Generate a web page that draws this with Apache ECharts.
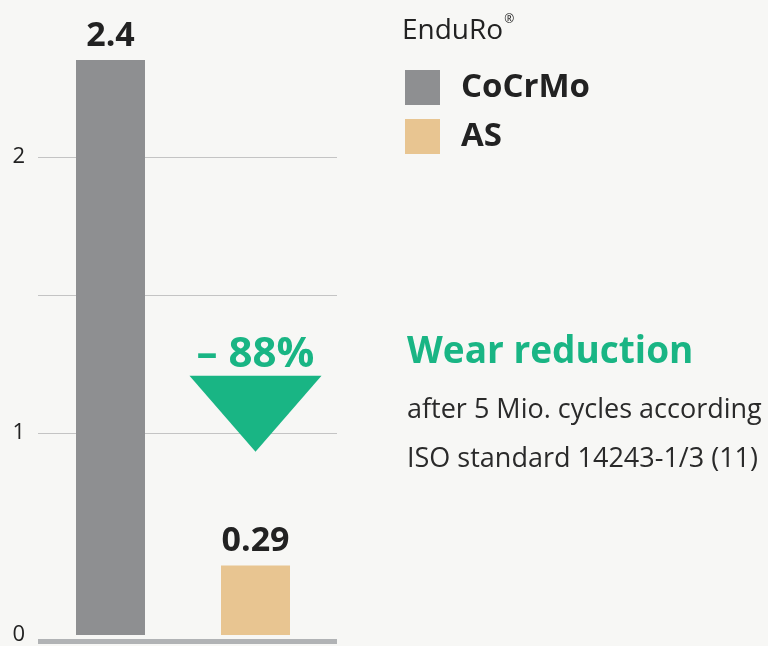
<!DOCTYPE html>
<html>
<head>
<meta charset="utf-8">
<title>EnduRo wear reduction</title>
<script src="https://cdn.jsdelivr.net/npm/echarts@6/dist/echarts.min.js"></script>
<style>
  html, body { margin: 0; padding: 0; background: #f7f7f5; }
  #chart { width: 768px; height: 646px; }
</style>
</head>
<body>
<div id="chart"></div>
<script>
// data
const materials = ['CoCrMo', 'AS'];
const wearValues = [2.4, 0.29];
const gridTicks = [1, 1.5, 2];
const reductionText = '– 88%';
const brandTitle = 'EnduRo';
const headline = 'Wear reduction';
const noteLines = ['after 5 Mio. cycles according', 'ISO standard 14243-1/3 (11)'];

const colors = ['#8e8f91', '#e8c591'];
const green = '#19b584';
const textColor = '#222';
const font = '"Open Sans", "Liberation Sans", sans-serif';

const chart = echarts.init(document.getElementById('chart'));

// one bar per material, stacked so each bar stays centred in its category
const barSeries = materials.map((name, i) => ({
  name: name,
  type: 'bar',
  stack: 'wear',
  xAxisIndex: 0,
  yAxisIndex: 0,
  barWidth: 69,
  itemStyle: { color: colors[i] },
  data: materials.map((m, j) => (j === i ? wearValues[j] : '-')),
  label: {
    show: true,
    position: 'top',
    distance: 7,
    color: textColor,
    fontFamily: font,
    fontWeight: 'bold',
    fontSize: 34
  }
}));

// arrow with the reduction, above the AS bar
barSeries[1].markPoint = {
  symbol: 'triangle',
  symbolRotate: 180,
  symbolSize: [132, 76],
  itemStyle: { color: green },
  silent: true,
  label: {
    show: true,
    position: 'top',
    distance: 0,
    formatter: reductionText,
    color: green,
    fontFamily: font,
    fontWeight: 'bold',
    fontSize: 42
  },
  data: [{ coord: ['AS', 0.924] }]
};

const option = {
  backgroundColor: '#f7f7f5',
  animation: false,
  title: [
    {
      text: '{a|' + brandTitle + '}{b|®}',
      left: 402,
      top: 14,
      padding: 0,
      textStyle: {
        rich: {
          a: { fontFamily: font, fontWeight: 'normal', fontSize: 28, color: textColor, lineHeight: 34 },
          b: { fontFamily: font, fontWeight: 'normal', fontSize: 12, color: textColor, verticalAlign: 'top', lineHeight: 34, padding: [0, 0, 14, 1] }
        }
      }
    },
    {
      text: headline,
      left: 407,
      top: 334,
      padding: 0,
      textStyle: { fontFamily: font, fontWeight: 'bold', fontSize: 37, color: green }
    },
    {
      text: noteLines.join('\n'),
      left: 407,
      top: 386,
      padding: 0,
      textStyle: { fontFamily: font, fontSize: 27, lineHeight: 49, fontWeight: 'normal', color: '#2a2a2a' }
    }
  ],
  legend: {
    orient: 'vertical',
    left: 405,
    top: 70,
    icon: 'rect',
    itemWidth: 35,
    itemHeight: 35,
    itemGap: 14,
    padding: 0,
    data: materials,
    textStyle: {
      fontFamily: font,
      fontWeight: 'bold',
      fontSize: 33,
      color: textColor,
      padding: [0, 0, 0, 16]
    }
  },
  grid: [
    // bars
    { left: 38, width: 290, top: 60, bottom: 5 },
    // gridlines with the 1 and 2 marks
    { left: 38, width: 299, top: 157, bottom: 213 }
  ],
  xAxis: [
    {
      gridIndex: 0,
      type: 'category',
      data: materials,
      axisLine: { show: false },
      axisTick: { show: false },
      axisLabel: { show: false }
    },
    {
      gridIndex: 1,
      type: 'value',
      min: 0,
      max: 1,
      offset: 208,
      z: 5,
      axisLine: { show: true, lineStyle: { color: '#b1b3b5', width: 5, cap: 'butt' } },
      axisTick: { show: false },
      axisLabel: { show: false },
      splitLine: { show: false }
    }
  ],
  yAxis: [
    {
      gridIndex: 0,
      type: 'value',
      min: 0,
      max: 2.4,
      interval: 1.2,
      axisLine: { show: false },
      axisTick: { show: false },
      splitLine: { show: false },
      axisLabel: {
        margin: 13,
        color: textColor,
        fontFamily: font,
        fontSize: 22,
        formatter: v => (v === 0 ? '0' : '')
      }
    },
    {
      gridIndex: 1,
      type: 'value',
      min: gridTicks[0],
      max: gridTicks[gridTicks.length - 1],
      interval: gridTicks[1] - gridTicks[0],
      axisLine: { show: false },
      axisTick: { show: false },
      splitLine: { show: true, lineStyle: { color: '#c4c4c4', width: 1 } },
      axisLabel: {
        margin: 13,
        color: textColor,
        fontFamily: font,
        fontSize: 22,
        formatter: v => (Number.isInteger(v) ? String(v) : '')
      }
    }
  ],
  series: barSeries
};

chart.setOption(option);
</script>
</body>
</html>
